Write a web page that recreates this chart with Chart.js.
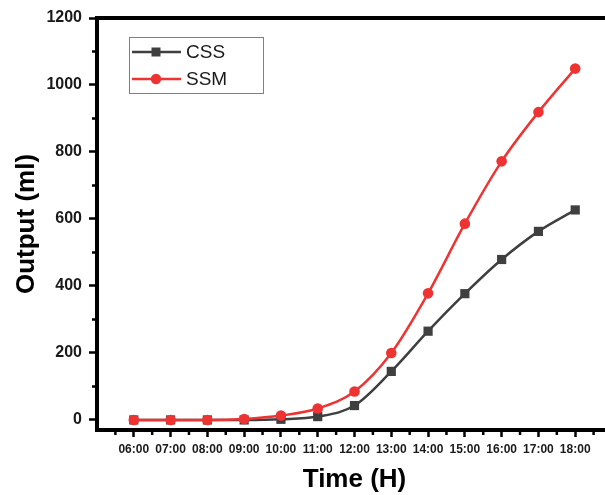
<!DOCTYPE html>
<html>
<head>
<meta charset="utf-8">
<script src="https://cdn.jsdelivr.net/npm/chart.js@4/dist/chart.umd.min.js"></script>
<style>
  html, body { margin: 0; padding: 0; overflow: hidden; background: #fff; }
  canvas { display: block; }
</style>
</head>
<body>
<canvas id="chart" width="620" height="495"></canvas>
<script>
// Hourly output of the two systems
const categories = ['06:00', '07:00', '08:00', '09:00', '10:00', '11:00', '12:00',
                    '13:00', '14:00', '15:00', '16:00', '17:00', '18:00'];
const cssOutput = [0, 0, 0, 0, 2, 10, 43, 145, 265, 377, 479, 563, 627];
const ssmOutput = [0, 0, 0, 3, 13, 34, 85, 200, 378, 586, 772, 919, 1049];
const yTicks = [0, 200, 400, 600, 800, 1000, 1200];
const yMinorTicks = [100, 300, 500, 700, 900, 1100];

const FONT = "Arial, 'Liberation Sans', sans-serif";
const CSS_COLOR = '#3f3f3f';
const SSM_COLOR = '#ee3333';

const toPoints = arr => arr.map((v, i) => ({ x: i, y: v }));

// Top/right frame lines, minor ticks and the boxed legend inside the plot
const framePlugin = {
  id: 'frame',
  afterDraw(chart) {
    const { ctx, chartArea: a, scales } = chart;
    ctx.save();
    ctx.strokeStyle = '#000';
    ctx.lineWidth = 4;
    ctx.beginPath();
    ctx.moveTo(a.left - 2, a.top);
    ctx.lineTo(a.right + 2, a.top);
    ctx.moveTo(a.right, a.top);
    ctx.lineTo(a.right, a.bottom);
    ctx.stroke();

    // minor ticks
    ctx.lineWidth = 2.5;
    ctx.beginPath();
    for (let v = -0.5; v < 13; v += 1) {
      const px = scales.x.getPixelForValue(v);
      ctx.moveTo(px, a.bottom);
      ctx.lineTo(px, a.bottom + 5);
    }
    yMinorTicks.forEach(v => {
      const py = scales.y.getPixelForValue(v);
      ctx.moveTo(a.left, py);
      ctx.lineTo(a.left - 5, py);
    });
    ctx.stroke();

    // legend
    const lx = a.left + 32, ly = a.top + 19, w = 134, h = 56;
    ctx.lineWidth = 1;
    ctx.strokeStyle = '#808080';
    ctx.strokeRect(lx + 0.5, ly + 0.5, w, h);
    const items = [
      { label: 'CSS', color: CSS_COLOR, style: 'rect' },
      { label: 'SSM', color: SSM_COLOR, style: 'circle' }
    ];
    items.forEach((it, i) => {
      const y = ly + 15 + i * 27;
      ctx.strokeStyle = it.color;
      ctx.fillStyle = it.color;
      ctx.lineWidth = 2.5;
      ctx.beginPath();
      ctx.moveTo(lx + 3, y);
      ctx.lineTo(lx + 52, y);
      ctx.stroke();
      ctx.beginPath();
      if (it.style === 'rect') {
        ctx.rect(lx + 27 - 4.5, y - 4.5, 9, 9);
      } else {
        ctx.arc(lx + 27, y, 5.2, 0, Math.PI * 2);
      }
      ctx.fill();
      ctx.fillStyle = '#1a1a1a';
      ctx.font = '19px ' + FONT;
      ctx.textBaseline = 'middle';
      ctx.textAlign = 'left';
      ctx.fillText(it.label, lx + 57, y + 1);
    });
    ctx.restore();
  }
};

new Chart(document.getElementById('chart'), {
  type: 'line',
  data: {
    datasets: [
      {
        label: 'CSS',
        data: toPoints(cssOutput),
        borderColor: CSS_COLOR,
        backgroundColor: CSS_COLOR,
        borderWidth: 2.5,
        pointStyle: 'rect',
        pointRadius: 6.5,
        pointBorderWidth: 0,
        cubicInterpolationMode: 'monotone',
        order: 1
      },
      {
        label: 'SSM',
        data: toPoints(ssmOutput),
        borderColor: SSM_COLOR,
        backgroundColor: SSM_COLOR,
        borderWidth: 2.5,
        pointStyle: 'circle',
        pointRadius: 5.3,
        pointBorderWidth: 0,
        cubicInterpolationMode: 'monotone',
        order: 0
      }
    ]
  },
  options: {
    responsive: false,
    animation: false,
    layout: { padding: { top: 18, right: 8, bottom: 0, left: 0 } },
    plugins: { legend: { display: false }, tooltip: { enabled: false } },
    scales: {
      x: {
        type: 'linear',
        min: -1,
        max: 13,
        afterBuildTicks: s => { s.ticks = categories.map((_, i) => ({ value: i })); },
        afterFit: s => { s.height = 65; },
        ticks: {
          callback: v => categories[v],
          font: { family: FONT, size: 12, weight: 'bold' },
          color: '#1a1a1a',
          padding: 5,
          maxRotation: 0,
          autoSkip: false
        },
        grid: { drawOnChartArea: false, drawTicks: true, tickLength: 7, tickWidth: 2.5, tickColor: '#000' },
        border: { display: true, width: 4, color: '#000' },
        title: {
          display: true,
          text: 'Time (H)',
          font: { family: FONT, size: 26, weight: 'bold' },
          color: '#000',
          padding: { top: 0, bottom: 0 }
        }
      },
      y: {
        min: -30,
        max: 1200,
        afterBuildTicks: s => { s.ticks = yTicks.map(v => ({ value: v })); },
        afterFit: s => { s.width = 97; },
        ticks: {
          callback: v => String(v),
          font: { family: FONT, size: 16, weight: 'bold' },
          color: '#1a1a1a',
          padding: 7
        },
        grid: { drawOnChartArea: false, drawTicks: true, tickLength: 8, tickWidth: 2.5, tickColor: '#000' },
        border: { display: true, width: 4, color: '#000' },
        title: {
          display: true,
          text: 'Output (ml)',
          font: { family: FONT, size: 26, weight: 'bold' },
          color: '#000',
          padding: { top: 11, bottom: 0 }
        }
      }
    }
  },
  plugins: [framePlugin]
});
</script>
</body>
</html>
